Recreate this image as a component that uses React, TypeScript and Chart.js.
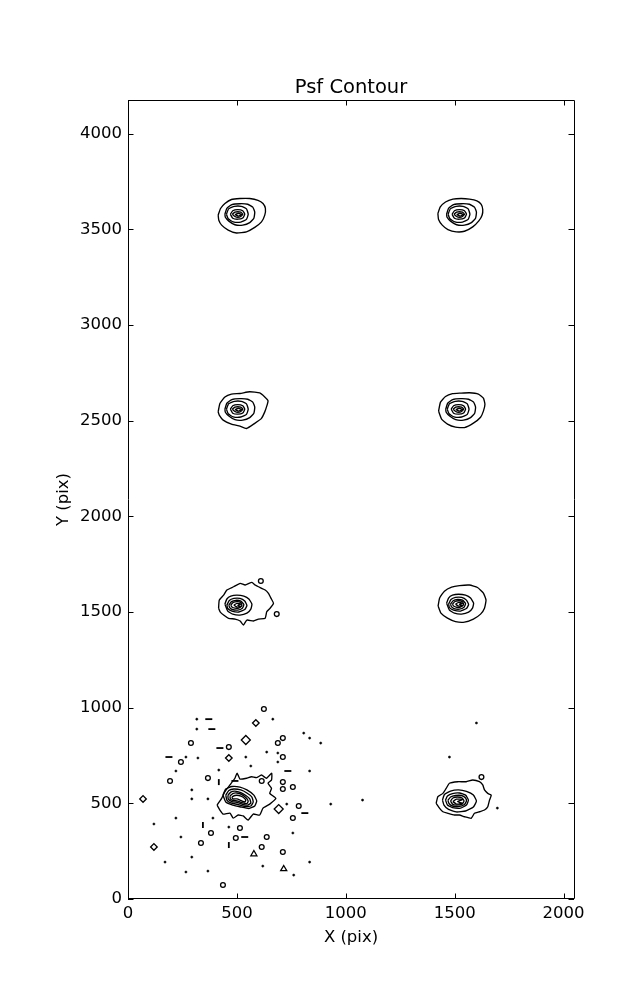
import React, { useEffect, useRef } from 'react';
import { Chart, registerables } from 'chart.js';

Chart.register(...registerables);

type Pt = [number, number];

// ---------- axes ----------
const xTickValues = [0, 500, 1000, 1500, 2000];
const yTickValues = [0, 500, 1000, 1500, 2000, 2500, 3000, 3500, 4000];
const xRange: Pt = [0, 2048];
const yRange: Pt = [0, 4176];
const chartTitle = 'Psf Contour';
const xTitle = 'X (pix)';
const yTitle = 'Y (pix)';

// ---------- round PSFs (rows at ~3500 and ~2500) ----------
const roundCenters: Pt[] = [[504, 3574], [1522, 3574], [504, 2555], [1518, 2555]];

const outerA: Pt[] = [[414, 3574], [425, 3609], [445, 3635], [475, 3656], [514, 3661], [559, 3661], [597, 3652], [620, 3635], [631, 3609], [628, 3574], [613, 3539], [582, 3510], [544, 3487], [498, 3481], [460, 3496], [430, 3522], [417, 3548]];
const outerB: Pt[] = [[1423, 3583], [1434, 3617], [1458, 3643], [1492, 3658], [1530, 3661], [1568, 3658], [1602, 3649], [1622, 3631], [1629, 3604], [1626, 3574], [1611, 3544], [1583, 3513], [1545, 3490], [1507, 3487], [1469, 3499], [1443, 3522], [1426, 3551]];
const outerC: Pt[] = [[414, 2546], [422, 2590], [445, 2624], [475, 2639], [514, 2642], [559, 2651], [605, 2645], [628, 2624], [643, 2604], [636, 2572], [628, 2546], [613, 2512], [582, 2486], [544, 2459], [514, 2471], [475, 2482], [437, 2503], [419, 2529]];
const outerD: Pt[] = [[1426, 2550], [1435, 2597], [1458, 2626], [1490, 2641], [1527, 2644], [1568, 2646], [1609, 2639], [1632, 2618], [1639, 2586], [1632, 2550], [1619, 2518], [1586, 2487], [1545, 2464], [1504, 2466], [1467, 2482], [1440, 2508]];
const roundOuters: Pt[][] = [outerA, outerB, outerC, outerD];

// inner levels, as offsets from each PSF centre
const roundLevel2: Pt[] = [[-59, 5], [-50, 36], [-27, 55], [10, 60], [46, 57], [69, 42], [78, 16], [74, -16], [55, -39], [23, -52], [-13, -50], [-41, -31], [-57, -11]];
const roundLevel3: Pt[] = [[-52, 5], [-42, 33], [-15, 46], [16, 46], [40, 33], [48, 5], [40, -22], [14, -36], [-21, -35], [-44, -19]];
const roundLevel4: Pt[] = [[-34, 5], [-23, 23], [0, 29], [23, 23], [32, 5], [23, -15], [0, -21], [-23, -16]];
const roundLevel5: Pt[] = [[-25, 5], [-13, 16], [0, 18], [14, 16], [23, 5], [14, -7], [0, -11], [-13, -7]];
const roundLevel6: Pt[] = [[-13, 3], [3, 10], [19, 3], [3, -5]];
const roundLevels: Pt[][] = [roundLevel2, roundLevel3, roundLevel4, roundLevel5, roundLevel6];

// ---------- PSFs at ~1500 ----------
const psfE: Pt[][] = [
  [[416, 1519], [419, 1562], [439, 1588], [454, 1615], [485, 1632], [515, 1650], [538, 1641], [569, 1655], [584, 1641], [599, 1632], [630, 1615], [645, 1597], [657, 1571], [668, 1545], [652, 1519], [637, 1501], [630, 1467], [599, 1463], [576, 1453], [546, 1458], [530, 1432], [515, 1453], [492, 1463], [462, 1467], [439, 1484], [423, 1501]],
  [[445, 1541], [454, 1568], [472, 1583], [500, 1588], [532, 1583], [555, 1568], [569, 1541], [564, 1515], [546, 1494], [514, 1484], [481, 1489], [458, 1505]],
  [[454, 1536], [465, 1560], [486, 1571], [514, 1571], [536, 1557], [546, 1534], [536, 1513], [509, 1500], [477, 1505], [458, 1518]],
  [[463, 1536], [475, 1554], [495, 1561], [518, 1557], [532, 1539], [525, 1520], [504, 1510], [479, 1513], [467, 1523]],
  [[472, 1536], [483, 1550], [502, 1554], [518, 1549], [523, 1534], [511, 1522], [491, 1520], [477, 1526]],
  [[486, 1536], [500, 1545], [518, 1541], [504, 1535], [518, 1528], [500, 1526]],
];
const psfFOuter: Pt[] = [[1424, 1531], [1431, 1573], [1453, 1609], [1486, 1630], [1522, 1638], [1568, 1641], [1605, 1628], [1632, 1599], [1644, 1562], [1637, 1520], [1619, 1489], [1586, 1463], [1545, 1447], [1504, 1450], [1467, 1468], [1437, 1494]];
const psfFShift: Pt = [1018, 5];

// ---------- PSFs at ~500 ----------
const psfG: Pt[][] = [
  [[409, 491], [430, 526], [445, 561], [468, 596], [491, 631], [501, 658], [514, 627], [544, 631], [567, 639], [590, 634], [613, 648], [636, 631], [660, 658], [659, 622], [643, 605], [659, 578], [651, 552], [679, 526], [651, 496], [620, 475], [605, 439], [575, 444], [552, 413], [529, 434], [506, 439], [483, 423], [468, 449], [437, 444], [422, 465]],
  [[436, 543], [449, 575], [477, 588], [514, 585], [546, 570], [578, 543], [591, 512], [582, 486], [555, 473], [518, 481], [481, 491], [449, 507]],
  [[449, 543], [463, 567], [486, 575], [518, 570], [546, 554], [569, 533], [575, 507], [564, 486], [536, 483], [504, 494], [472, 502], [454, 517]],
  [[459, 543], [472, 559], [491, 564], [518, 556], [541, 541], [559, 523], [564, 502], [550, 491], [527, 494], [504, 504], [477, 509], [460, 523]],
  [[468, 538], [481, 551], [500, 554], [523, 546], [541, 530], [552, 512], [546, 499], [527, 502], [504, 512], [481, 515], [470, 523]],
  [[477, 533], [491, 541], [509, 541], [527, 533], [541, 517], [536, 507], [518, 515], [500, 523], [481, 523]],
];
const psfH: Pt[][] = [
  [[1415, 500], [1423, 535], [1446, 552], [1461, 578], [1476, 605], [1514, 613], [1553, 613], [1583, 622], [1614, 613], [1629, 596], [1637, 570], [1652, 552], [1668, 543], [1660, 517], [1652, 482], [1637, 465], [1614, 456], [1591, 448], [1576, 422], [1545, 430], [1522, 439], [1499, 439], [1469, 448], [1446, 456], [1431, 474]],
  [[1444, 517], [1453, 546], [1481, 564], [1518, 570], [1554, 562], [1586, 543], [1600, 512], [1586, 481], [1550, 460], [1508, 455], [1472, 468], [1451, 491]],
  [[1458, 517], [1467, 538], [1490, 551], [1522, 554], [1550, 543], [1563, 517], [1554, 491], [1527, 475], [1490, 478], [1467, 491]],
  [[1469, 515], [1481, 533], [1504, 541], [1531, 541], [1550, 528], [1554, 512], [1545, 494], [1518, 483], [1490, 486], [1474, 499]],
  [[1481, 512], [1492, 528], [1513, 533], [1534, 528], [1543, 512], [1534, 496], [1508, 491], [1490, 496]],
  [[1492, 509], [1508, 522], [1536, 520], [1513, 509], [1536, 499], [1508, 496]],
];

// ---------- small noise contours ----------
const noiseRings: Pt[] = [[624, 993], [289, 815], [463, 794], [193, 617], [711, 575], [614, 617], [784, 486], [757, 423], [514, 371], [381, 345], [495, 319], [637, 324], [335, 293], [711, 246], [436, 73], [243, 716], [367, 632], [610, 1662], [683, 1489], [1623, 637], [688, 815], [711, 841], [614, 272], [711, 742], [711, 611], [757, 585]];
const noiseBigBlobs: Pt[] = [[692, 470], [541, 831]];
const noiseDiamonds: Pt[] = [[587, 920], [463, 737], [69, 523], [119, 272]];
const noiseTriangles: Pt[] = [[578, 235], [715, 157]];
const noiseDots: Pt[] = [[316, 940], [665, 940], [316, 888], [807, 867], [834, 841], [885, 815], [266, 742], [321, 737], [541, 742], [637, 768], [688, 763], [564, 695], [220, 669], [417, 674], [834, 669], [293, 570], [293, 523], [367, 523], [729, 496], [931, 496], [220, 423], [390, 423], [119, 392], [463, 376], [243, 324], [293, 219], [170, 193], [834, 193], [619, 172], [266, 141], [367, 146], [761, 125], [1077, 517], [1696, 475], [1600, 920], [1476, 742], [688, 716], [757, 345]];
const noiseHDashes: Pt[] = [[371, 940], [385, 888], [422, 789], [188, 742], [734, 669], [491, 617], [812, 449], [536, 324]];
const noiseVDashes: Pt[] = [[344, 387], [463, 282], [417, 611]];

// ---------- helpers ----------
const place = (offs: Pt[], c: Pt): Pt[] => offs.map(([dx, dy]) => [c[0] + dx, c[1] + dy] as Pt);
const toXY = (pts: Pt[]) => pts.map(([x, y]) => ({ x, y }));
const loop = (pts: Pt[]) => toXY([...pts, pts[0]]);

function buildContours(): Pt[][] {
  const out: Pt[][] = [];
  roundCenters.forEach((c, i) => {
    out.push(roundOuters[i]);
    roundLevels.forEach((l) => out.push(place(l, c)));
  });
  out.push(...psfE);
  out.push(psfFOuter);
  psfE.slice(1).forEach((l) => out.push(place(l, psfFShift)));
  out.push(...psfG, ...psfH);
  return out;
}

const framePlugin = {
  id: 'frameTicks',
  afterDatasetsDraw(chart: any) {
    const { ctx, chartArea, scales } = chart;
    const { left, right, top, bottom } = chartArea;
    const tl = 5.5;
    ctx.save();
    ctx.strokeStyle = '#000';
    ctx.lineWidth = 1;
    ctx.beginPath();
    ctx.rect(left + 0.5, top + 0.5, right - left, bottom - top - 1);
    ctx.stroke();
    ctx.beginPath();
    xTickValues.forEach((v) => {
      const px = Math.round(scales.x.getPixelForValue(v)) + 0.5;
      ctx.moveTo(px, bottom);
      ctx.lineTo(px, bottom - tl);
      ctx.moveTo(px, top);
      ctx.lineTo(px, top + tl);
    });
    yTickValues.forEach((v) => {
      const py = Math.round(scales.y.getPixelForValue(v)) + 0.5;
      ctx.moveTo(left, py);
      ctx.lineTo(left + tl, py);
      ctx.moveTo(right, py);
      ctx.lineTo(right - tl, py);
    });
    ctx.stroke();
    ctx.restore();
  },
};

export default function App() {
  const ref = useRef<HTMLCanvasElement | null>(null);

  useEffect(() => {
    if (!ref.current) return;
    Chart.defaults.font.family = "'DejaVu Sans', sans-serif";
    const contourSets = buildContours().map((c) => ({
      data: loop(c),
      showLine: true,
      borderColor: '#000',
      borderWidth: 1.35,
      pointRadius: 0,
      fill: false,
      tension: 0.15,
    }));
    const markerBase = { showLine: false, borderColor: '#000', backgroundColor: 'rgba(255,255,255,0)' };
    const datasets: any[] = [
      ...contourSets,
      { ...markerBase, data: toXY(noiseRings), pointStyle: 'circle', pointRadius: 2.4, borderWidth: 1.3 },
      { ...markerBase, data: toXY(noiseBigBlobs), pointStyle: 'rectRot', pointRadius: 4.5, borderWidth: 1.3 },
      { ...markerBase, data: toXY(noiseDiamonds), pointStyle: 'rectRot', pointRadius: 3.3, borderWidth: 1.3 },
      { ...markerBase, data: toXY(noiseTriangles), pointStyle: 'triangle', pointRadius: 3.5, borderWidth: 1.3 },
      { ...markerBase, data: toXY(noiseDots), pointStyle: 'circle', pointRadius: 1.1, borderWidth: 0.5, backgroundColor: '#000' },
      { ...markerBase, data: toXY(noiseHDashes), pointStyle: 'line', pointRadius: 3.5, borderWidth: 1.8 },
      { ...markerBase, data: toXY(noiseVDashes), pointStyle: 'line', pointRotation: 90, pointRadius: 3, borderWidth: 1.8 },
    ];

    const chart = new Chart(ref.current, {
      type: 'scatter',
      data: { datasets },
      plugins: [framePlugin],
      options: {
        animation: false,
        responsive: false,
        devicePixelRatio: 1,
        events: [],
        layout: { padding: { left: 0, right: 63, top: 0, bottom: 0 } },
        plugins: {
          legend: { display: false },
          tooltip: { enabled: false },
          title: {
            display: true,
            text: chartTitle,
            fullSize: false,
            color: '#000',
            font: { size: 19.5, weight: 'normal' as any },
            padding: { top: 76, bottom: 0.6 },
          },
        },
        scales: {
          x: {
            type: 'linear',
            min: xRange[0],
            max: xRange[1],
            grid: { display: false, drawTicks: false },
            border: { display: false },
            ticks: { color: '#000', font: { size: 16.5 }, padding: 5, maxRotation: 0, autoSkip: false, callback: (v: any) => String(v) },
            afterBuildTicks: (s: any) => { s.ticks = xTickValues.map((v) => ({ value: v })); },
            afterFit: (s: any) => { s.height = 101; },
            title: { display: true, text: xTitle, color: '#000', font: { size: 16.5 }, padding: { top: 0, bottom: 52 } },
          },
          y: {
            type: 'linear',
            min: yRange[0],
            max: yRange[1],
            grid: { display: false, drawTicks: false },
            border: { display: false },
            ticks: { color: '#000', font: { size: 16.5 }, padding: 6, autoSkip: false, callback: (v: any) => String(v) },
            afterBuildTicks: (s: any) => { s.ticks = yTickValues.map((v) => ({ value: v })); },
            afterFit: (s: any) => { s.width = 128; },
            title: { display: true, text: yTitle, color: '#000', font: { size: 16.5 }, padding: { top: 54, bottom: 0 } },
          },
        },
      } as any,
    });
    return () => chart.destroy();
  }, []);

  return (
    <div style={{ position: 'absolute', left: 0, top: 0, width: 637, height: 1000, background: '#fff' }}>
      <canvas ref={ref} width={637} height={1000} style={{ width: 637, height: 1000, display: 'block' }} />
    </div>
  );
}
